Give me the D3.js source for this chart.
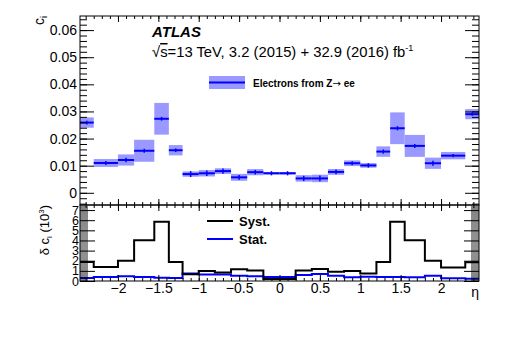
<!DOCTYPE html>
<html>
<head>
<meta charset="utf-8">
<script src="https://cdn.jsdelivr.net/npm/d3@7"></script>
<style>
  body { margin: 0; background: #fff; }
  text { font-family: "Liberation Sans", Arial, Helvetica, sans-serif; }
</style>
</head>
<body>
<div id="chart"></div>
<script>
// eta bin edges and per-bin values
const binEdges = [-2.47, -2.3, -2.0, -1.8, -1.55, -1.37, -1.2, -1.0, -0.8, -0.6, -0.4, -0.2, 0,
    0.2, 0.4, 0.6, 0.8, 1.0, 1.2, 1.37, 1.55, 1.8, 2.0, 2.3, 2.47];
const cValues = [0.0259, 0.0110, 0.0121, 0.0155, 0.0273, 0.0157, 0.0069, 0.0072, 0.0080, 0.0057, 0.0076, 0.0072,
    0.0072, 0.0053, 0.0053, 0.0077, 0.0109, 0.0101, 0.0152, 0.0238, 0.0173, 0.0109, 0.0137, 0.0290];
// uncertainties in units of 10^-3
const systValues = [1.88, 1.39, 2.0, 4.03, 5.84, 1.88, 0.66, 0.99, 0.83, 1.16, 1.03, 0.2,
    0.2, 1.03, 1.19, 0.92, 0.99, 0.73, 1.88, 5.84, 4.03, 2.0, 1.33, 1.85];
const statValues = [0.3, 0.4, 0.46, 0.4, 0.33, 0.3, 0.73, 0.63, 0.63, 0.53, 0.46, 0.4,
    0.4, 0.6, 0.7, 0.53, 0.37, 0.43, 0.4, 0.4, 0.37, 0.53, 0.26, 0.23];

const xTicks = [-2, -1.5, -1, -0.5, 0, 0.5, 1, 1.5, 2];
const yTopTicks = [0, 0.01, 0.02, 0.03, 0.04, 0.05, 0.06];
const yBotTicks = [0, 1, 2, 3, 4, 5, 6, 7];

const width = 505;
const height = 344;
const padL = 80, padR = 479, padT = 16, padM = 205, padB = 281;
const fill = "rgb(153,153,255)";
const blue = "#0000ff";

const svg = d3.select("#chart").append("svg")
    .attr("width", width)
    .attr("height", height);

const x = d3.scaleLinear().domain([-2.47, 2.47]).range([padL, padR]);
const yTop = d3.scaleLinear().domain([-0.0045, 0.0652]).range([padM, padT]);
const yBot = d3.scaleLinear().domain([0, 7.5]).range([padB, padM]);

const minorX = d3.range(-24, 25).map(d => d / 10);
const minorYTop = d3.range(-2, 33).map(d => d * 0.002);
const minorYBot = d3.range(0, 75).map(d => d / 10);

function fmtMinus(s) { return s.replace("-", "\u2212"); }

function drawAxis(axis, tx, ty, hideLabels) {
    const g = svg.append("g")
        .attr("transform", `translate(${tx},${ty})`)
        .call(axis);
    g.select(".domain").remove();
    if (hideLabels) g.selectAll("text").remove();
    g.selectAll("line").attr("stroke", "#000");
    return g;
}

// ---- top panel ----
const bins = cValues.map((c, i) => ({
    x0: binEdges[i], x1: binEdges[i + 1], c: c,
    tot: Math.sqrt(systValues[i] ** 2 + statValues[i] ** 2) / 1000,
    stat: statValues[i] / 1000
}));

svg.selectAll("rect.box")
    .data(bins)
    .enter()
    .append("rect")
    .attr("class", "box")
    .attr("x", d => x(d.x0))
    .attr("width", d => x(d.x1) - x(d.x0))
    .attr("y", d => yTop(d.c + d.tot))
    .attr("height", d => Math.max(1, yTop(d.c - d.tot) - yTop(d.c + d.tot)))
    .attr("fill", fill);

svg.selectAll("line.hbar")
    .data(bins)
    .enter()
    .append("line")
    .attr("class", "hbar")
    .attr("x1", d => x(d.x0))
    .attr("x2", d => x(d.x1))
    .attr("y1", d => yTop(d.c))
    .attr("y2", d => yTop(d.c))
    .attr("stroke", blue)
    .attr("stroke-width", 2);

svg.selectAll("line.vbar")
    .data(bins)
    .enter()
    .append("line")
    .attr("class", "vbar")
    .attr("x1", d => x((d.x0 + d.x1) / 2))
    .attr("x2", d => x((d.x0 + d.x1) / 2))
    .attr("y1", d => yTop(d.c + d.stat) - 1)
    .attr("y2", d => yTop(d.c - d.stat) + 1)
    .attr("stroke", blue)
    .attr("stroke-width", 1.5);

// top panel axes (ROOT style: ticks pointing inwards)
drawAxis(d3.axisLeft(yTop).tickValues(minorYTop).tickSize(-7), padL, 0, true);
drawAxis(d3.axisLeft(yTop).tickValues(yTopTicks).tickSize(-14).tickPadding(3)
    .tickFormat(d => d === 0 ? "0" : d.toFixed(2)), padL, 0, false)
    .selectAll("text").style("font-size", "14px").attr("fill", "#000");
drawAxis(d3.axisRight(yTop).tickValues(minorYTop).tickSize(-7), padR, 0, true);
drawAxis(d3.axisRight(yTop).tickValues(yTopTicks).tickSize(-14), padR, 0, true);
drawAxis(d3.axisTop(x).tickValues(minorX).tickSize(-3), 0, padT, true);
drawAxis(d3.axisTop(x).tickValues(xTicks).tickSize(-6), 0, padT, true);
drawAxis(d3.axisBottom(x).tickValues(minorX).tickSize(-3), 0, padM, true);
drawAxis(d3.axisBottom(x).tickValues(xTicks).tickSize(-6), 0, padM, true);

svg.append("rect")
    .attr("x", padL).attr("y", padT)
    .attr("width", padR - padL).attr("height", padM - padT)
    .attr("fill", "none").attr("stroke", "#000");

// ---- bottom panel ----
const stepLine = d3.line()
    .x(d => x(d[0]))
    .y(d => yBot(d[1]))
    .curve(d3.curveStepAfter);

function stepPoints(vals) {
    const pts = vals.map((v, i) => [binEdges[i], v]);
    pts.push([binEdges[binEdges.length - 1], vals[vals.length - 1]]);
    return pts;
}

svg.append("path")
    .attr("d", stepLine(stepPoints(statValues)))
    .attr("fill", "none")
    .attr("stroke", blue)
    .attr("stroke-width", 2);

svg.append("path")
    .attr("d", stepLine(stepPoints(systValues)))
    .attr("fill", "none")
    .attr("stroke", "#000")
    .attr("stroke-width", 2);

drawAxis(d3.axisLeft(yBot).tickValues(minorYBot).tickSize(-8), padL, 0, true)
    .selectAll("line").attr("stroke-width", 0.5);
drawAxis(d3.axisLeft(yBot).tickValues(yBotTicks).tickSize(-15).tickPadding(1), padL, 0, false)
    .selectAll("text").style("font-size", "12.5px").attr("fill", "#000");
drawAxis(d3.axisRight(yBot).tickValues(minorYBot).tickSize(-8), padR, 0, true)
    .selectAll("line").attr("stroke-width", 0.5);
drawAxis(d3.axisRight(yBot).tickValues(yBotTicks).tickSize(-15), padR, 0, true);
drawAxis(d3.axisTop(x).tickValues(minorX).tickSize(-3), 0, padM, true);
drawAxis(d3.axisTop(x).tickValues(xTicks).tickSize(-6), 0, padM, true);
drawAxis(d3.axisBottom(x).tickValues(minorX).tickSize(-3), 0, padB, true);
drawAxis(d3.axisBottom(x).tickValues(xTicks).tickSize(-6).tickPadding(2)
    .tickFormat(d => fmtMinus(String(d))), 0, padB, false)
    .selectAll("text").style("font-size", "14px").attr("fill", "#000");

svg.append("rect")
    .attr("x", padL).attr("y", padM)
    .attr("width", padR - padL).attr("height", padB - padM)
    .attr("fill", "none").attr("stroke", "#000");

// ---- labels ----
const cLabel = svg.append("text")
    .attr("transform", `translate(44,${padT}) rotate(-90)`)
    .attr("text-anchor", "end")
    .style("font-size", "14px");
cLabel.append("tspan").text("c");
cLabel.append("tspan").attr("dy", 3).style("font-size", "9px").text("i");

const dLabel = svg.append("text")
    .attr("transform", `translate(49,${padM}) rotate(-90)`)
    .attr("text-anchor", "end")
    .style("font-size", "13px");
dLabel.append("tspan").text("\u03b4 c");
dLabel.append("tspan").attr("dy", 3).style("font-size", "8px").text("i");
dLabel.append("tspan").attr("dy", -3).text(" (10");
dLabel.append("tspan").attr("dy", -5).style("font-size", "8px").text("3");
dLabel.append("tspan").attr("dy", 5).text(")");

svg.append("text")
    .attr("x", padR).attr("y", 297)
    .attr("text-anchor", "end")
    .style("font-size", "14px")
    .text("\u03b7");

svg.append("text")
    .attr("x", 152).attr("y", 37)
    .style("font-size", "15px")
    .style("font-weight", "bold")
    .style("font-style", "italic")
    .text("ATLAS");

const energy = svg.append("text")
    .attr("x", 152).attr("y", 57)
    .style("font-size", "14.8px");
energy.append("tspan").text("\u221a");
energy.append("tspan").style("text-decoration", "overline").text("s");
energy.append("tspan").text("=13 TeV, 3.2 (2015) + 32.9 (2016) fb");
energy.append("tspan").attr("dy", -6).style("font-size", "9px").text("-1");

// top legend
svg.append("rect")
    .attr("x", 209).attr("y", 76).attr("width", 36).attr("height", 13)
    .attr("fill", fill);
svg.append("line")
    .attr("x1", 209).attr("x2", 245).attr("y1", 82.5).attr("y2", 82.5)
    .attr("stroke", blue).attr("stroke-width", 2);
const legText = svg.append("text")
    .attr("x", 253).attr("y", 86.5)
    .style("font-size", "10px").style("font-weight", "bold");
legText.append("tspan").text("Electrons from Z");
legText.append("tspan").style("font-family", "'DejaVu Sans', sans-serif")
    .style("font-weight", "normal").text("\u2192");
legText.append("tspan").text(" ee");

// bottom legend
const botLegend = [
    { label: "Syst.", color: "#000", y: 221 },
    { label: "Stat.", color: blue, y: 239 }
];
botLegend.forEach(item => {
    svg.append("line")
        .attr("x1", 207).attr("x2", 233).attr("y1", item.y).attr("y2", item.y)
        .attr("stroke", item.color).attr("stroke-width", 2);
    svg.append("text")
        .attr("x", 239).attr("y", item.y + 5)
        .style("font-size", "13px").style("font-weight", "bold")
        .text(item.label);
});
</script>
</body>
</html>
